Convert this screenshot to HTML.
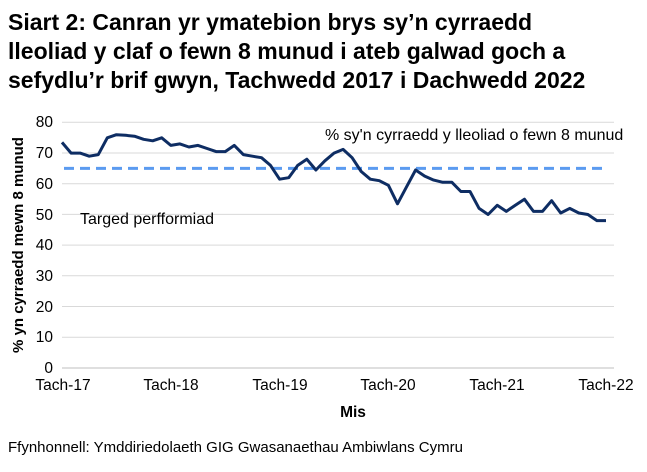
<!DOCTYPE html>
<html><head><meta charset="utf-8"><style>
body{margin:0;background:#fff;width:647px;height:467px;overflow:hidden;font-family:"Liberation Sans",Arial,sans-serif}
</style></head><body>
<svg width="647" height="467" xmlns="http://www.w3.org/2000/svg" font-family="Liberation Sans, Arial, sans-serif">
<g font-size="23" font-weight="bold" fill="#000">
<text x="8" y="30">Siart 2: Canran yr ymatebion brys sy’n cyrraedd</text>
<text x="8" y="59">lleoliad y claf o fewn 8 munud i ateb galwad goch a</text>
<text x="8" y="88">sefydlu’r brif gwyn, Tachwedd 2017 i Dachwedd 2022</text>
</g>
<g stroke="#d9d9d9" stroke-width="1">
<line x1="62" x2="614" y1="122.3" y2="122.3"/><line x1="62" x2="614" y1="153" y2="153"/>
<line x1="62" x2="614" y1="183.7" y2="183.7"/><line x1="62" x2="614" y1="214.4" y2="214.4"/>
<line x1="62" x2="614" y1="245.1" y2="245.1"/><line x1="62" x2="614" y1="275.8" y2="275.8"/>
<line x1="62" x2="614" y1="306.5" y2="306.5"/><line x1="62" x2="614" y1="337.2" y2="337.2"/>
<line x1="62" x2="614" y1="368" y2="368" stroke="#bfbfbf"/>
</g>
<g font-size="15.5" fill="#000" text-anchor="end">
<text x="53" y="127">80</text><text x="53" y="158">70</text><text x="53" y="189">60</text><text x="53" y="220">50</text>
<text x="53" y="250">40</text><text x="53" y="281">30</text><text x="53" y="312">20</text><text x="53" y="342">10</text><text x="53" y="373">0</text>
</g>
<g font-size="15.5" fill="#000" text-anchor="middle">
<text x="63" y="390">Tach-17</text><text x="171" y="390">Tach-18</text><text x="280" y="390">Tach-19</text>
<text x="388" y="390">Tach-20</text><text x="497" y="390">Tach-21</text><text x="606" y="390">Tach-22</text>
<text x="353" y="417" font-weight="bold">Mis</text>
</g>
<text transform="translate(23,245) rotate(-90)" font-size="15" font-weight="bold" text-anchor="middle">% yn cyrraedd mewn 8 munud</text>
<line x1="64" x2="602" y1="168.4" y2="168.4" stroke="#5b9bf0" stroke-width="3" stroke-dasharray="10,6"/>
<text x="325" y="140" font-size="16">% sy'n cyrraedd y lleoliad o fewn 8 munud</text>
<text x="80" y="224" font-size="16">Targed perfformiad</text>
<polyline id="p" fill="none" stroke="#0e2d63" stroke-width="3" stroke-linejoin="round" points=""/>
<text x="8" y="452" font-size="15">Ffynhonnell: Ymddiriedolaeth GIG Gwasanaethau Ambiwlans Cymru</text>
</svg>
<script>
var d=[73.5,70,70,69,69.5,75,76,75.8,75.5,74.5,74,75,72.5,73,72,72.5,71.5,70.5,70.5,72.5,69.5,69,68.5,66,61.5,62,66,68,64.5,67.5,70,71.2,68.5,64,61.5,61,59.5,53.5,59,64.5,62.5,61.2,60.5,60.5,57.5,57.5,52,50,53,51,53,55,51,51,54.5,50.5,52,50.5,50,48,48];
var s=d.map(function(v,i){return (62+i*544/60).toFixed(1)+","+(368-v*3.07).toFixed(1)}).join(" ");
document.getElementById("p").setAttribute("points",s);
</script>
</body></html>
